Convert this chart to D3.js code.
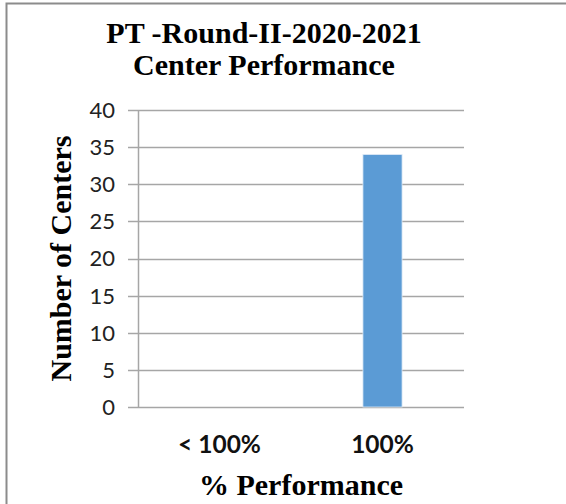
<!DOCTYPE html>
<html>
<head>
    <meta charset="UTF-8">
    <title>PT Round II</title>
    <script src="https://cdnjs.cloudflare.com/ajax/libs/d3/7.8.5/d3.min.js"></script>
    <style>
        body { margin: 0; background: #fff; }
        .serif { font-family: "Liberation Serif", "Times New Roman", serif; font-weight: bold; fill: #000; }
    </style>
</head>
<body>
<script>

    // chart data
    var categories = ["< 100%", "100%"];
    var centers = [0, 34];
    var yTicks = [0, 5, 10, 15, 20, 25, 30, 35, 40];
    var titleLines = ["PT -Round-II-2020-2021", "Center Performance"];

    var width = 566, height = 504;
    var plotLeft = 138, plotRight = 464, plotTop = 110, plotBottom = 407;

    var svg = d3.select("body").append("svg")
            .attr("width", width)
            .attr("height", height);

    // frame: only top + left edges show in the picture
    svg.append("path")
            .attr("d", "M6.5," + height + "V3.5H" + width)
            .attr("fill", "none")
            .attr("stroke", "#8c8c8c")
            .attr("stroke-width", 2);

    var x = d3.scaleBand().domain(categories).range([plotLeft, plotRight]);
    var y = d3.scaleLinear().domain([0, 40]).range([plotBottom, plotTop]);

    // gridlines
    svg.append("g")
            .selectAll("line")
            .data(yTicks)
            .enter()
            .append("line")
            .attr("x1", plotLeft - 10)
            .attr("x2", plotRight)
            .attr("y1", function(d){ return Math.round(y(d)) + 0.5; })
            .attr("y2", function(d){ return Math.round(y(d)) + 0.5; })
            .attr("stroke", "#a6a6a6")
            .attr("stroke-width", 1.5);

    // y axis line
    svg.append("line")
            .attr("x1", plotLeft + 0.5).attr("x2", plotLeft + 0.5)
            .attr("y1", y(40)).attr("y2", y(0))
            .attr("stroke", "#a6a6a6")
            .attr("stroke-width", 1.5);

    // bars, about a quarter of the band wide
    var barW = x.bandwidth() * 0.24;
    svg.selectAll("rect")
            .data(centers)
            .enter()
            .append("rect")
            .attr("x", function(d, i){ return x(categories[i]) + (x.bandwidth() - barW) / 2; })
            .attr("y", function(d){ return y(d); })
            .attr("width", barW)
            .attr("height", function(d){ return y(0) - y(d); })
            .attr("fill", "#5b9bd5")
            .attr("stroke", "#dce9f6")
            .attr("stroke-width", function(d){ return d > 0 ? 0.8 : 0; });

    // y tick labels
    svg.append("g")
            .selectAll("text")
            .data(yTicks)
            .enter()
            .append("text")
            .attr("x", plotLeft - 23)
            .attr("y", function(d){ return y(d); })
            .attr("dy", "0.36em")
            .attr("text-anchor", "end")
            .style("font-family", "Lato, 'Open Sans', sans-serif")
            .style("font-size", "22px")
            .style("fill", "#222")
            .text(function(d){ return d; });

    // category labels
    svg.append("g")
            .selectAll("text")
            .data(categories)
            .enter()
            .append("text")
            .attr("x", function(d){ return x(d) + x.bandwidth() / 2; })
            .attr("y", 453)
            .attr("text-anchor", "middle")
            .style("font-family", "Lato, 'Open Sans', sans-serif")
            .style("font-weight", "bold")
            .style("font-size", "24.5px")
            .style("fill", "#111")
            .text(function(d){ return d; });

    // titles
    svg.selectAll("text.title")
            .data(titleLines)
            .enter()
            .append("text")
            .attr("class", "title serif")
            .attr("x", 264)
            .attr("y", function(d, i){ return 43 + i * 32; })
            .attr("text-anchor", "middle")
            .style("font-size", "30px")
            .text(function(d){ return d; });

    svg.append("text")
            .attr("class", "serif")
            .attr("x", (plotLeft + plotRight) / 2)
            .attr("y", 495)
            .attr("text-anchor", "middle")
            .style("font-size", "30px")
            .text("% Performance");

    svg.append("text")
            .attr("class", "serif")
            .attr("transform", "translate(71," + (plotTop + plotBottom) / 2 + ") rotate(-90)")
            .attr("text-anchor", "middle")
            .style("font-size", "30px")
            .text("Number of Centers");

</script>
</body>
</html>
